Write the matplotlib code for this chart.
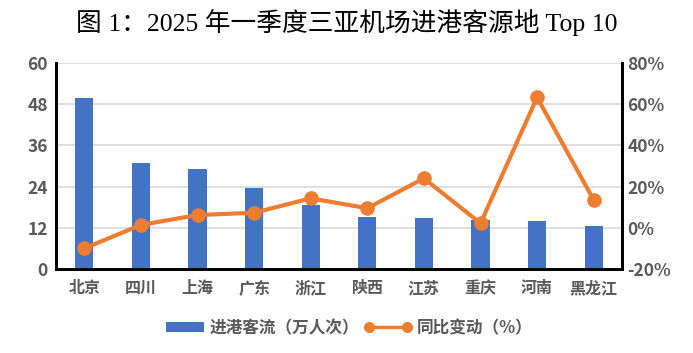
import matplotlib
matplotlib.use("Agg")
import matplotlib.pyplot as plt
from matplotlib.ticker import FuncFormatter
from matplotlib.lines import Line2D
from matplotlib.patches import Rectangle
from matplotlib.legend_handler import HandlerPatch

categories = ["北京", "四川", "上海", "广东", "浙江", "陕西", "江苏", "重庆", "河南", "黑龙江"]
arrivals = [49.9, 30.9, 29.2, 23.7, 18.7, 15.2, 14.9, 14.3, 14.0, 12.6]
yoy_pct = [-10.0, 1.4, 6.2, 7.3, 14.3, 9.5, 24.0, 2.2, 63.3, 13.5]
left_ticks = [0, 12, 24, 36, 48, 60]
right_ticks = [-20, 0, 20, 40, 60, 80]

plt.rcParams['font.family'] = ['Noto Sans CJK SC', 'DejaVu Sans']

W, H = 693, 353
fig = plt.figure(figsize=(W/100, H/100), dpi=100)
ax = fig.add_axes([56/W, 1-269/H, (622-56)/W, (269-63)/H])
ax2 = ax.twinx()

x = list(range(len(categories)))
bars = ax.bar(x, arrivals, width=0.32, color='#4472C4', zorder=2)
ax.set_ylim(0, 60)
ax.set_xlim(-0.5, len(categories)-0.5)
ax.set_yticks(left_ticks)
ax.yaxis.grid(True, color='#D9D9D9', linewidth=1.2, zorder=0)
ax.set_axisbelow(True)
ax.set_xticks(x)
ax.set_xticklabels(categories)

line, = ax2.plot(x, yoy_pct, color='#ED7D31', linewidth=3, marker='o', markersize=9.5, zorder=3)
ax2.set_ylim(-20, 80)
ax2.set_yticks(right_ticks)
ax2.yaxis.set_major_formatter(FuncFormatter(lambda v, p: f"{int(v)}%"))

gray = '#595959'
for a in (ax, ax2):
    a.tick_params(length=0, labelcolor=gray, labelsize=12.5)
    for lbl in a.get_yticklabels():
        lbl.set_fontweight('bold')
    a.spines['top'].set_visible(False)
    for s in ('left', 'right', 'bottom'):
        a.spines[s].set_linewidth(2)
        a.spines[s].set_color('black')
ax.tick_params(axis='x', labelsize=11.5, pad=8)
for lbl in ax.get_xticklabels():
    lbl.set_fontweight('bold')
ax.tick_params(axis='y', pad=6)
ax2.tick_params(axis='y', pad=4)

fig.text(0.5, 1-22/H, "图 1：2025 年一季度三亚机场进港客源地 Top 10",
         ha='center', va='center', fontsize=18.5,
         family=['Liberation Serif', 'Noto Sans CJK SC'])


def narrow_rect(legend, orig_handle, xdescent, ydescent, width, height, fontsize):
    w = width * 0.8
    h = height * 0.75
    return Rectangle((-xdescent + width - w, -ydescent + (height - h) / 2), w, h)


leg_line = Line2D([], [], color='#ED7D31', linewidth=2.5, marker='o', markersize=7)
leg = fig.legend([bars.patches[0], leg_line], ['进港客流（万人次）', '同比变动（%）'],
                 loc='center', bbox_to_anchor=(0.497, 1-328/H), ncol=2, frameon=False,
                 numpoints=2, handlelength=2.9, handleheight=0.9, columnspacing=0.3, handletextpad=0.3,
                 prop={'size': 12, 'weight': 'bold'},
                 handler_map={Rectangle: HandlerPatch(patch_func=narrow_rect)})
for t in leg.get_texts():
    t.set_color(gray)

fig.savefig('out.png', dpi=100)
